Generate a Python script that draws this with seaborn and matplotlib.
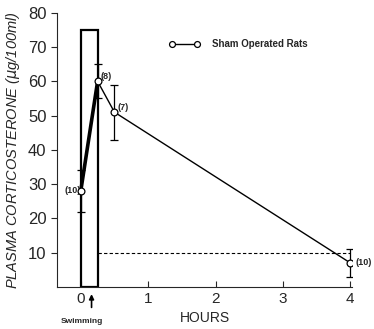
import numpy as np
import pandas as pd
import seaborn as sns
import matplotlib.pyplot as plt
from matplotlib.patches import Rectangle

# values
hours = [0.0, 0.25, 0.5, 4.0]
cort = [28, 60, 51, 7]
sem = [6, 5, 8, 4]
n_rats = ['(10)', '(8)', '(7)', '(10)']
swim_end = 0.25
swim_top = 75
baseline = 10

df = pd.DataFrame({'hours': hours, 'cort': cort, 'sem': sem, 'n': n_rats})

sns.set_style('ticks')
plt.rcParams['font.family'] = ['Liberation Sans', 'DejaVu Sans']

fig = plt.figure(figsize=(3.74, 3.29), dpi=100)
ax = fig.add_axes([0.152, 0.128, 0.79, 0.833])

# swimming bar
ax.add_patch(Rectangle((0, 0), swim_end, swim_top, fill=False, ec='black', lw=1.6))
ax.plot([swim_end, hours[-1]], [baseline, baseline], ls='--', color='black', lw=0.8, dashes=(3, 2))

# thick rise during swimming, thin afterwards
sns.lineplot(data=df.iloc[:2], x='hours', y='cort', ax=ax, color='black', lw=2.6)
sns.lineplot(data=df.iloc[1:], x='hours', y='cort', ax=ax, color='black', lw=1.0)
ax.errorbar(df['hours'], df['cort'], yerr=df['sem'], fmt='none', ecolor='black',
            elinewidth=0.9, capsize=3, capthick=0.9)
sns.scatterplot(data=df, x='hours', y='cort', ax=ax, s=24, facecolor='white',
                edgecolor='black', linewidth=0.9, zorder=5)

offs = [(-0.24, 0), (0.04, 1.5), (0.04, 1.5), (0.08, 0)]
for (h, c, lab), (dx, dy) in zip(zip(hours, cort, n_rats), offs):
    ax.text(h + dx, c + dy, lab, fontsize=6.5, fontweight='bold', va='center', ha='left')

# legend drawn by hand
ax.plot([1.36, 1.72], [71, 71], color='black', lw=1.0)
ax.scatter([1.36, 1.72], [71, 71], s=18, facecolor='white', edgecolor='black', lw=0.9, zorder=5)
ax.text(1.95, 71, 'Sham Operated Rats', fontsize=7, fontweight='bold', va='center')

ax.set_xlim(-0.355, 4.03)
ax.set_ylim(0, 80)
ax.set_xticks([0, 1, 2, 3, 4])
ax.set_xticklabels(['0', '1', '2', '3', '4'], fontsize=11)
ax.set_yticks([10, 20, 30, 40, 50, 60, 70, 80])
ax.set_yticklabels(['10', '20', '30', '40', '50', '60', '70', '80'], fontsize=12)
ax.tick_params(axis='x', direction='in', length=4, width=0.8, pad=4)
ax.tick_params(axis='y', direction='out', length=4, width=0.8)
ax.set_xlabel('HOURS', fontsize=10, labelpad=3)
ax.set_ylabel('PLASMA CORTICOSTERONE ($\\mu$g/100ml)', fontsize=10.5, style='italic', labelpad=4)
sns.despine(ax=ax)

ax.annotate('', xy=(0.16, -1.3), xytext=(0.16, -6.8), annotation_clip=False,
            arrowprops=dict(arrowstyle='-|>', color='black', lw=1.2, mutation_scale=7))
ax.text(0.02, -10.2, 'Swimming', fontsize=6, fontweight='bold', ha='center', va='center', clip_on=False)

fig.savefig('out.png', dpi=100)
